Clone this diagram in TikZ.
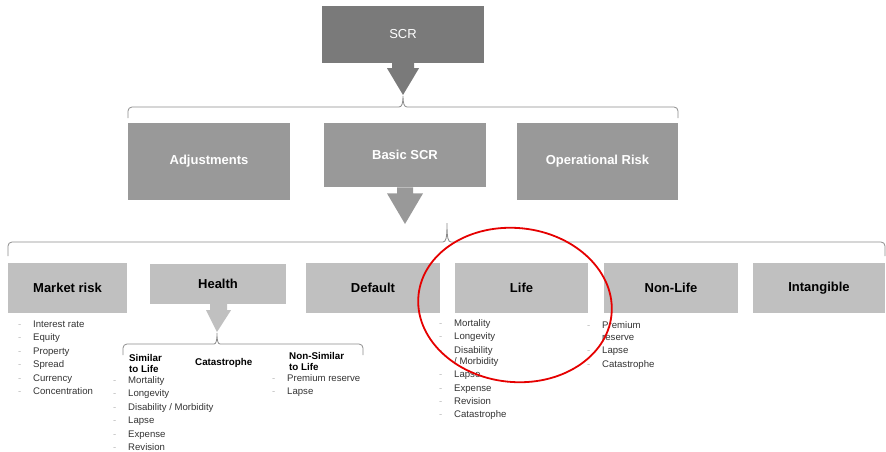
\documentclass[tikz,border=0pt]{standalone}
\usepackage{fontspec}
\setmainfont{Liberation Sans}
\usetikzlibrary{calc}
\definecolor{dark}{HTML}{7A7A7A}
\definecolor{mid}{HTML}{999999}
\definecolor{light}{HTML}{C0C0C0}
\definecolor{brc}{HTML}{8C8C8C}
\definecolor{txt}{HTML}{333333}
\definecolor{dsh}{HTML}{BBBBBB}
\newcommand{\itm}[1]{\makebox[15pt][l]{\color{dsh}-}#1}
\newcommand{\wrp}[1]{\makebox[15pt][l]{}#1}
\tikzset{
  topbox/.style={fill=dark,draw=none,text=white,font=\fontsize{13}{15}\selectfont,minimum width=162pt,minimum height=57pt,inner sep=0pt},
  midbox/.style={fill=mid,draw=none,text=white,font=\fontsize{13}{15}\selectfont\bfseries,minimum height=77pt,inner sep=0pt},
  lowbox/.style={fill=light,draw=none,text=black,font=\fontsize{13}{15}\selectfont\bfseries,minimum height=50pt,inner sep=0pt},
  lst/.style={anchor=base west,align=left,inner sep=0pt,text=txt,font=\fontsize{9.6}{13.4}\selectfont},
  hd/.style={anchor=base west,align=left,inner sep=0pt,text=black,font=\fontsize{9.8}{10.8}\selectfont\bfseries},
  brace/.style={draw=brc,line width=0.8pt,rounded corners=4pt},
}
\begin{document}
\begin{tikzpicture}[x=1pt,y=-1pt]
\useasboundingbox (0,0) rectangle (886,452);
% top
\node[topbox] (scr) at (403,34.5) {SCR};
\node[midbox,minimum width=162pt] (adj) at (209,161.5) {Adjustments};
\node[midbox,minimum width=162pt,minimum height=64pt,anchor=north] (bscr) at (405,123) {Basic SCR};
\node[midbox,minimum width=161pt] (opr) at (597.5,161.5) {Operational Risk};
% arrow SCR
\fill[dark] ($(scr.south)+(-11,0)$) -- ++(0,5) -- ++(-5,0) -- (403,95) -- ($(scr.south)+(16,5)$) -- ++(-5,0) -- ++(0,-5) -- cycle;
% brace 1
\draw[brace] (128,118) -- (128,107) -- (399,107);
\draw[brc,line width=0.8pt] (399,107) .. controls (402,107) and (403,103) .. (403,96) .. controls (403,103) and (404,107) .. (407,107);
\draw[brace] (407,107) -- (678,107) -- (678,118);
% arrow Basic SCR
\fill[mid] ($(bscr.south)+(-8,0)$) -- ++(0,6) -- ++(-10,0) -- (405,224) -- ($(bscr.south)+(18,6)$) -- ++(-10,0) -- ++(0,-6) -- cycle;
% brace 2
\draw[brace] (8,256) -- (8,242) -- (443,242);
\draw[brc,line width=0.8pt] (443,242) .. controls (446,242) and (447,238) .. (447,223) .. controls (447,238) and (448,242) .. (451,242);
\draw[brace] (451,242) -- (885,242) -- (885,256);
% low boxes
\node[lowbox,minimum width=119pt] (mkt) at (67.5,288) {Market risk};
\node[lowbox,minimum width=136pt,minimum height=40pt] (hlt) at (218,284) {Health};
\node[lowbox,minimum width=134pt] (dft) at (373,288) {Default};
\node[lowbox,minimum width=133pt] (life) at (521.5,288) {Life};
\node[lowbox,minimum width=134pt] (nlife) at (671,288) {Non-Life};
\node[lowbox,minimum width=132pt] (intg) at (819,288) {Intangible};
% health arrow
\fill[light] ($(hlt.south)+(-8,0)$) -- ++(0,6) -- ++(-4,0) -- (217,332) -- ($(hlt.south)+(13,6)$) -- ++(-4,0) -- ++(0,-6) -- cycle;
% brace 3
\draw[brace] (123,355) -- (123,344) -- (214,344);
\draw[brc,line width=0.8pt] (214,344) .. controls (216,344) and (217,341) .. (217,333) .. controls (217,341) and (218,344) .. (220,344);
\draw[brace] (220,344) -- (363,344) -- (363,355);
% lists (base anchor = baseline of last line)
\node[lst] (lmkt) at (18,394.5) {\itm{Interest rate}\\\itm{Equity}\\\itm{Property}\\\itm{Spread}\\\itm{Currency}\\\itm{Concentration}};
\node[hd] (hsim) at (129,372.3) {Similar\\to Life};
\node[hd] (hcat) at (195,365.5) {Catastrophe};
\node[hd] (hnon) at (289,370.3) {Non-Similar\\to Life};
\node[lst] (lsim) at (113,450.5) {\itm{Mortality}\\\itm{Longevity}\\\itm{Disability / Morbidity}\\\itm{Lapse}\\\itm{Expense}\\\itm{Revision}};
\node[lst] (lnon) at (272,394.9) {\itm{Premium reserve}\\\itm{Lapse}};
\node[lst] (llife) at (439,417.9) {\itm{Mortality}\\\itm{Longevity}\\\itm{Disability}\\[-2.4pt]\wrp{/ Morbidity}\\\itm{Lapse}\\\itm{Expense}\\\itm{Revision}\\\itm{Catastrophe}};
\node[lst] (lnl) at (587,367.1) {\itm{Premium}\\[-1.6pt]\wrp{reserve}\\\itm{Lapse}\\\itm{Catastrophe}};
% red ellipse
\draw[red!90!black,line width=1.8pt,rotate around={-6:(515,305)}] (515,305) ellipse [x radius=97, y radius=77];
\end{tikzpicture}
\end{document}
